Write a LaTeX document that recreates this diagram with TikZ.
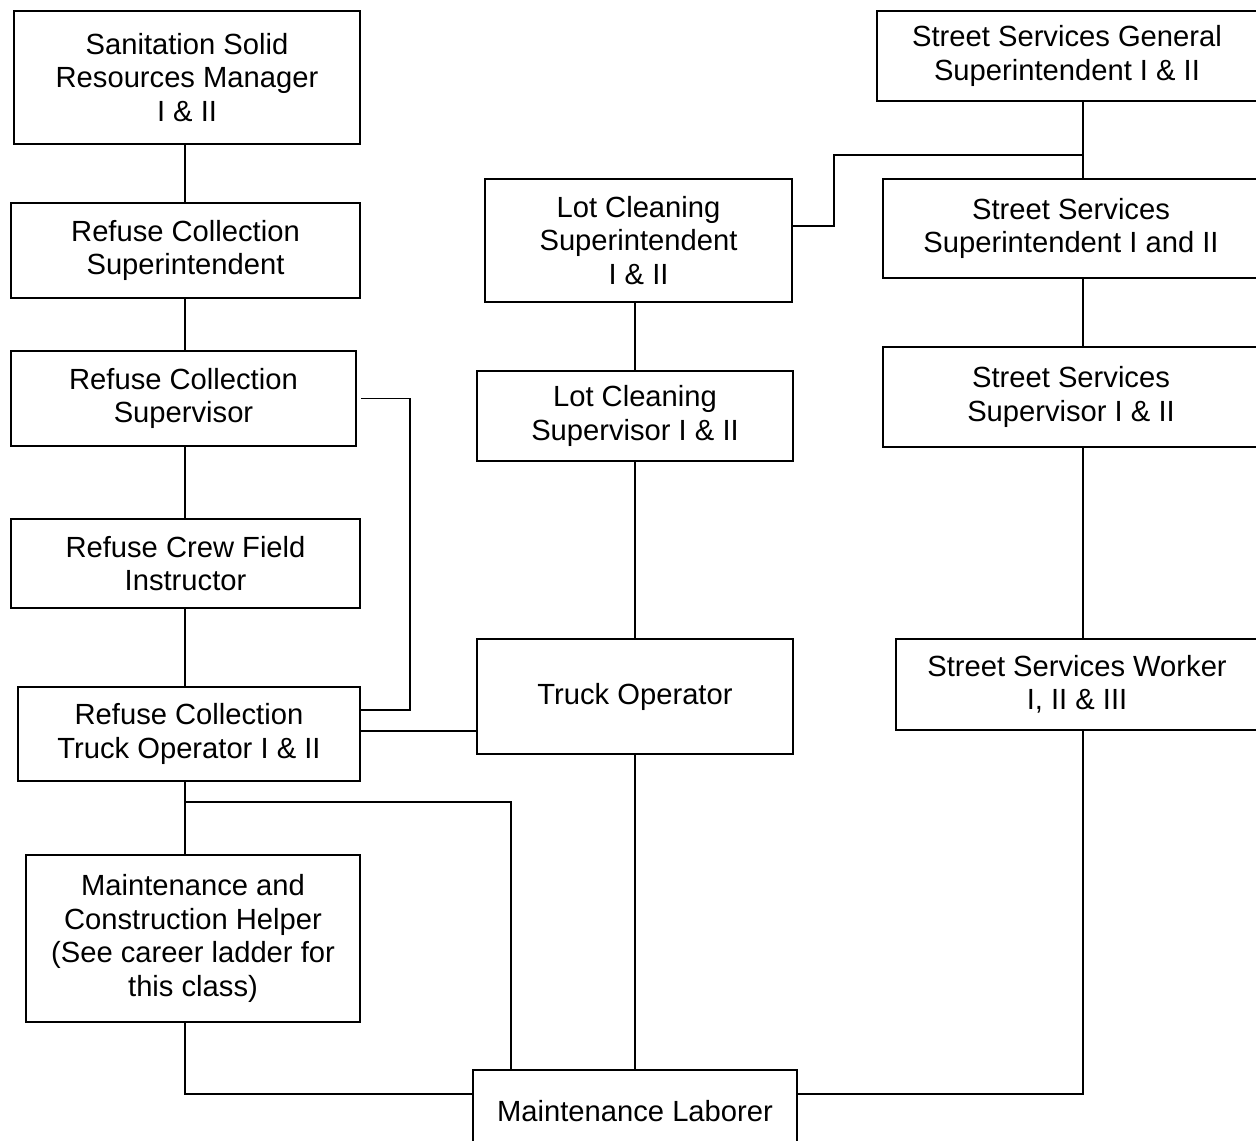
\documentclass[tikz,border=0pt]{standalone}
\usepackage{fontspec}
\setmainfont{Liberation Sans}
\usepackage{tikz}
\usetikzlibrary{positioning,calc}
\newcommand\chartfont{\fontsize{16.6}{19.1}\selectfont}

\begin{document}
\begin{tikzpicture}[post/.style={draw, line width=0.85pt, align=center, inner sep=0pt, font=\chartfont}, link/.style={line width=0.85pt}]
	\useasboundingbox (0,0) rectangle (25.12,-22.80);
	\clip (0,0) rectangle (25.12,-22.80);
	\coordinate (lt) at (3.70,0);
	\coordinate (mt) at (12.70,0);
	\coordinate (rt) at (21.66,0);

\node[post, minimum width=6.92cm, minimum height=2.66cm] (ssrm) at (3.74,-1.55) {Sanitation Solid\\Resources Manager\\I \& II};
\node[post, minimum width=6.98cm, minimum height=1.90cm] (rcsupt) at (3.71,-5.01) {Refuse Collection\\Superintendent};
\node[post, minimum width=6.90cm, minimum height=1.90cm] (rcsupv) at (3.67,-7.97) {Refuse Collection\\Supervisor};
\node[post, minimum width=6.98cm, minimum height=1.78cm] (rcfi) at (3.71,-11.27) {Refuse Crew Field\\Instructor};
\node[post, minimum width=6.84cm, minimum height=1.88cm] (rcto) at (3.78,-14.68) {Refuse Collection\\Truck Operator I \& II};
\node[post, minimum width=6.68cm, minimum height=3.34cm] (mch) at (3.86,-18.77) {Maintenance and\\Construction Helper\\(See career ladder for\\this class)};
\node[post, minimum width=6.48cm, minimum height=1.64cm] (ml) at (12.70,-22.22) {Maintenance Laborer};
\node[post, minimum width=6.14cm, minimum height=2.46cm] (lcsupt) at (12.77,-4.81) {Lot Cleaning\\Superintendent\\I \& II};
\node[post, minimum width=6.32cm, minimum height=1.80cm] (lcsupv) at (12.70,-8.32) {Lot Cleaning\\Supervisor I \& II};
\node[post, minimum width=6.32cm, minimum height=2.30cm] (truckop) at (12.70,-13.93) {Truck Operator};
\node[post, minimum width=7.60cm, minimum height=1.80cm] (ssgs) at (21.34,-1.12) {Street Services General\\Superintendent I \& II};
\node[post, minimum width=7.52cm, minimum height=1.98cm] (sssupt) at (21.42,-4.57) {Street Services\\Superintendent I and II};
\node[post, minimum width=7.52cm, minimum height=2.00cm] (sssupv) at (21.42,-7.94) {Street Services\\Supervisor I \& II};
\node[post, minimum width=7.24cm, minimum height=1.82cm] (ssw) at (21.54,-13.69) {Street Services Worker\\I, II \& III};

\draw [link] (ssrm.south -| lt) -- (rcsupt.north -| lt);
\draw [link] (rcsupt.south -| lt) -- (rcsupv.north -| lt);
\draw [link] (rcsupv.south -| lt) -- (rcfi.north -| lt);
\draw [link] (rcfi.south -| lt) -- (rcto.north -| lt);
\draw [link] (rcto.south -| lt) -- (mch.north -| lt);
\coordinate (side) at (8.20,-7.97);
\draw [link] ([xshift=0.08cm]rcsupv.east) -| (side) |- ([yshift=0.48cm]rcto.east);
\draw [link] ([yshift=0.06cm]rcto.east) -- ([yshift=0.06cm]rcto.east -| truckop.west);
\coordinate (split) at (3.70,-16.04);
\draw [link] (split) -| ([xshift=-2.48cm]ml.north);
\draw [link] (mch.south -| lt) |- ([yshift=0.34cm]ml.west);
\draw [link] (truckop.south) -- (ml.north);
\draw [link] (ssw.south -| rt) |- ([yshift=0.34cm]ml.east);
\draw [link] (lcsupt.south -| mt) -- (lcsupv.north -| mt);
\draw [link] (lcsupv.south -| mt) -- (truckop.north -| mt);
\draw [link] (ssgs.south -| rt) -- (sssupt.north -| rt);
\coordinate (elbow) at (16.68,-3.10);
\draw [link] (rt |- elbow) -- (elbow) |- ([yshift=0.29cm]lcsupt.east);
\draw [link] (sssupt.south -| rt) -- (sssupv.north -| rt);
\draw [link] (sssupv.south -| rt) -- (ssw.north -| rt);
\end{tikzpicture}
\end{document}
